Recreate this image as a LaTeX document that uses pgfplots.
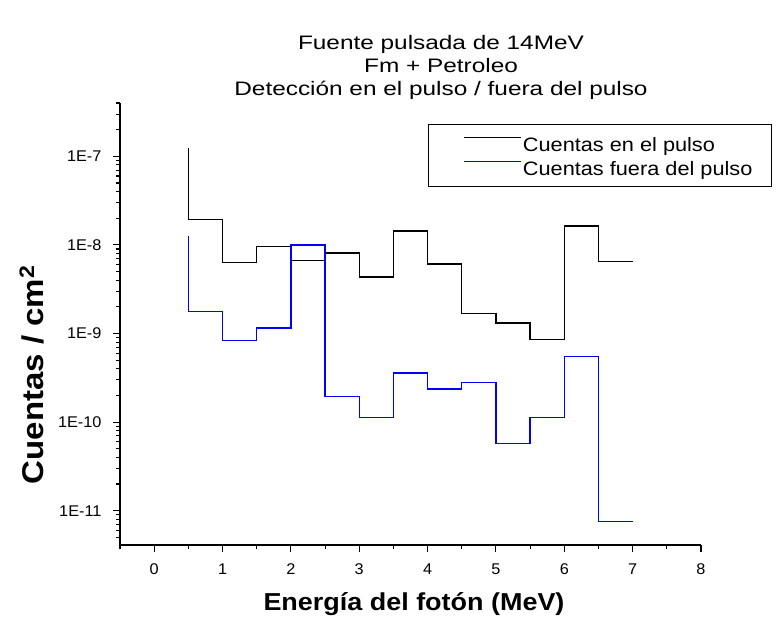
\documentclass[border=0pt]{standalone}
\usepackage{pgfplots}
\pgfplotsset{compat=1.18}
\usepackage{fontspec}
\setmainfont{Liberation Sans}
\newfontfamily\titlefont[FakeStretch=1.25]{Liberation Sans}
\newfontfamily\legfont[FakeStretch=1.12]{Liberation Sans}
\newfontfamily\labfont[FakeStretch=1.1]{Liberation Sans}
\newfontfamily\tickfont[FakeStretch=1.05]{Liberation Sans}
\definecolor{pulseblue}{RGB}{0,0,255}

% counts per energy bin (MeV), drawn as steps ending at each x
\pgfplotstableread{
x    y
0.5  1.24e-7
1.0  1.93e-8
1.5  6.3e-9
2.0  9.6e-9
2.5  6.67e-9
3.0  8.1e-9
3.5  4.36e-9
4.0  1.44e-8
4.5  6.1e-9
5.0  1.68e-9
5.5  1.31e-9
6.0  8.6e-10
6.5  1.64e-8
7.0  6.55e-9
}\enpulso
\pgfplotstableread{
x    y
0.5  1.25e-8
1.0  1.76e-9
1.5  8.3e-10
2.0  1.16e-9
2.5  1.0e-8
3.0  1.95e-10
3.5  1.12e-10
4.0  3.6e-10
4.5  2.37e-10
5.0  2.8e-10
5.5  5.74e-11
6.0  1.13e-10
6.5  5.47e-10
7.0  7.5e-12
}\fuerapulso

\begin{document}
\begin{tikzpicture}[x=1pt,y=1pt]
\useasboundingbox (0,0) rectangle (783,618);
\begin{axis}[
  at={(120pt,73pt)}, anchor=south west,
  scale only axis, width=581pt, height=442pt,
  xmin=-0.5, xmax=8,
  ymode=log, ymin=4.1e-12, ymax=4e-7,
  axis x line*=bottom, axis y line*=left,
  axis line style={line width=1.3pt, black},
  tick align=outside,
  major tick length=7pt, minor tick length=4pt,
  every tick/.style={black, line width=1.1pt},
  xtick={0,1,2,3,4,5,6,7,8},
  xticklabels={0,1,2,3,4,5,6,7,8},
  minor xtick={-0.5,0.5,1.5,2.5,3.5,4.5,5.5,6.5,7.5},
  ytick={1e-11,1e-10,1e-9,1e-8,1e-7},
  yticklabels={1E-11,1E-10,1E-9,1E-8,1E-7},
  minor ytick={5e-12,6e-12,7e-12,8e-12,9e-12,
    2e-11,3e-11,4e-11,5e-11,6e-11,7e-11,8e-11,9e-11,
    2e-10,3e-10,4e-10,5e-10,6e-10,7e-10,8e-10,9e-10,
    2e-9,3e-9,4e-9,5e-9,6e-9,7e-9,8e-9,9e-9,
    2e-8,3e-8,4e-8,5e-8,6e-8,7e-8,8e-8,9e-8,
    2e-7,3e-7,4e-7},
  tick label style={font=\tickfont\fontsize{15.5}{18}\selectfont},
  xticklabel style={yshift=-8pt},
  yticklabel style={xshift=-8pt},
  xlabel={Energía del fotón (MeV)},
  ylabel={Cuentas / cm\textsuperscript{2}},
  every axis x label/.style={at={(axis description cs:0.506,-0.149)}, anchor=base,
    font=\labfont\bfseries\fontsize{24.5}{28}\selectfont},
  every axis y label/.style={at={(axis description cs:-0.152,0.385)}, anchor=center, rotate=90,
    font=\labfont\bfseries\fontsize{30}{34}\selectfont},
  title={Fuente pulsada de 14MeV\\Fm + Petroleo\\Detección en el pulso / fuera del pulso},
  title style={at={(axis description cs:0.5525,0.994)}, anchor=south, align=center,
    inner sep=0pt, font=\titlefont\fontsize{19.5}{23}\selectfont},
  legend style={at={(axis description cs:0.53,0.952)}, anchor=north west,
    draw=black, line width=1.2pt, fill=white,
    inner xsep=9pt, inner ysep=8.5pt, row sep=3pt,
    font=\legfont\fontsize{19.4}{22}\selectfont,
    nodes={inner sep=0pt, text height=18pt, text depth=3pt}},
  legend cell align=left,
  legend image code/.code={
    \path (0pt,0pt) (84pt,0pt);
    \draw[#1, line width=1.3pt] (26pt,6pt) -- (83pt,6pt);
  },
]
\addplot[const plot mark right, black, line width=1.4pt] table[x=x, y=y] {\enpulso};
\addlegendentry{Cuentas en el pulso}
\addplot[const plot mark right, pulseblue, line width=1.4pt] table[x=x, y=y] {\fuerapulso};
\addlegendentry{Cuentas fuera del pulso\hspace*{10pt}}
\end{axis}
\end{tikzpicture}
\end{document}
